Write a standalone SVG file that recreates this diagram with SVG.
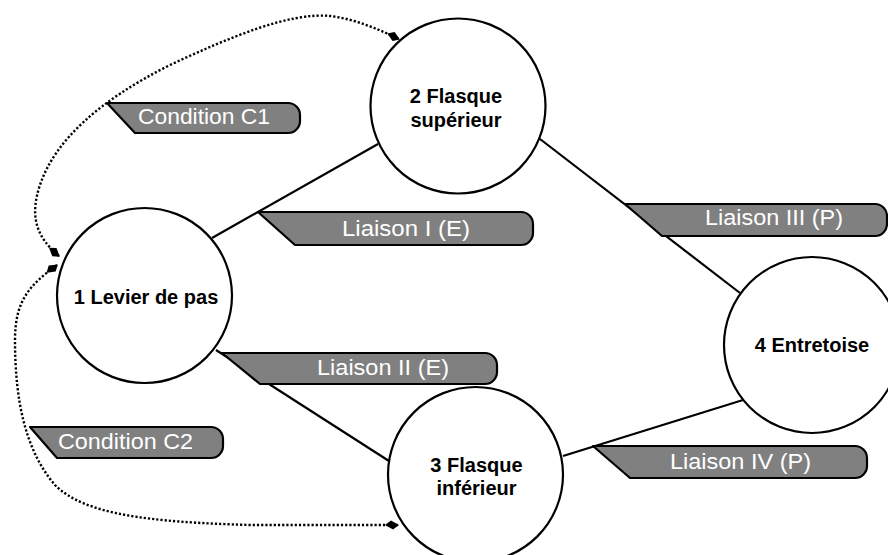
<svg xmlns="http://www.w3.org/2000/svg" width="888" height="555" viewBox="0 0 888 555">
<style>
.node circle{fill:#fff;stroke:#000;stroke-width:2.2}
.node text{font-family:"Liberation Sans",Arial,sans-serif;font-weight:bold;font-size:20px;fill:#000;text-anchor:middle}
.link{stroke:#000;stroke-width:2.2;fill:none}
.dot{stroke:#000;stroke-width:2.4;fill:none;stroke-dasharray:2.2 2}
.tag path{fill:#808080;stroke:#000;stroke-width:2.2;stroke-linejoin:round}
.tag text{font-family:"Liberation Sans",Arial,sans-serif;font-size:22px;fill:#fff}
</style>
<defs>
<marker id="dia" markerUnits="userSpaceOnUse" markerWidth="14" markerHeight="10" viewBox="0 0 14 10" refX="13" refY="5" orient="auto-start-reverse">
<path d="M0,5 L6,0.5 L14,5 L8,9.5 Z" fill="#000"/>
</marker>
</defs>
<g id="connectors">
<line class="link" x1="212" y1="238" x2="378" y2="144"/>
<line class="link" x1="216" y1="350" x2="389" y2="461"/>
<line class="link" x1="540" y1="139" x2="740" y2="293"/>
<line class="link" x1="563" y1="456" x2="743" y2="400"/>
<path class="dot" d="M59,256 C35,236 30,215 40,185 C55,140 100,100 170,65 C230,37 290,12 330,16 C355,19 378,29 399,39" marker-start="url(#dia)" marker-end="url(#dia)"/>
<path class="dot" d="M57,265 C30,285 15,300 15,340 C15,400 25,450 55,485 C85,515 150,522 250,525 L398,525" marker-start="url(#dia)" marker-end="url(#dia)"/>
</g>
<g id="node1" class="node"><circle cx="144.5" cy="295.5" r="87.5"/><text x="146" y="304">1 Levier de pas</text></g>
<g id="node2" class="node"><circle cx="458" cy="106" r="87.5"/><text x="456" y="103">2 Flasque</text><text x="456" y="127">supérieur</text></g>
<g id="node3" class="node"><circle cx="475.5" cy="474.5" r="87.5"/><text x="476.5" y="472">3 Flasque</text><text x="476.5" y="495">inférieur</text></g>
<g id="node4" class="node"><circle cx="812" cy="345" r="88"/><text x="812" y="352">4 Entretoise</text></g>
<g id="labelC1" class="tag"><path d="M107,103 L288,103 A12,12 0 0 1 300,115 L300,121 A12,12 0 0 1 288,133 L135,133 Z"/><text x="138" y="124" textLength="132" lengthAdjust="spacingAndGlyphs">Condition C1</text></g>
<g id="labelC2" class="tag"><path d="M30,427 L211,427 A12,12 0 0 1 223,439 L223,446 A12,12 0 0 1 211,458 L57,458 Z"/><text x="58" y="449" textLength="135" lengthAdjust="spacingAndGlyphs">Condition C2</text></g>
<g id="labelL1" class="tag"><path d="M258,212 L521,212 A12,12 0 0 1 533,224 L533,233 A12,12 0 0 1 521,245 L295,245 Z"/><text x="342" y="236" textLength="128" lengthAdjust="spacingAndGlyphs">Liaison I (E)</text></g>
<g id="labelL2" class="tag"><path d="M222,353 L485,353 A12,12 0 0 1 497,365 L497,372 A12,12 0 0 1 485,384 L260,384 Z"/><text x="317" y="375" textLength="132" lengthAdjust="spacingAndGlyphs">Liaison II (E)</text></g>
<g id="labelL3" class="tag"><path d="M625,204 L875,204 A12,12 0 0 1 887,216 L887,224 A12,12 0 0 1 875,236 L662,236 Z"/><text x="705" y="225" textLength="138" lengthAdjust="spacingAndGlyphs">Liaison III (P)</text></g>
<g id="labelL4" class="tag"><path d="M593,446 L855,446 A12,12 0 0 1 867,458 L867,466 A12,12 0 0 1 855,478 L630,478 Z"/><text x="670" y="469" textLength="141" lengthAdjust="spacingAndGlyphs">Liaison IV (P)</text></g>
</svg>
